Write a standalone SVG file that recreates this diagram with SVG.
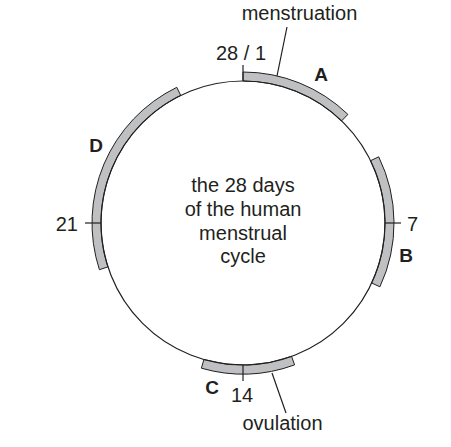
<svg xmlns="http://www.w3.org/2000/svg" width="451" height="447" viewBox="0 0 451 447">
<style>
.t{font-family:"Liberation Sans",Arial,sans-serif;font-size:20px;fill:#231f20}
.b{font-family:"Liberation Sans",Arial,sans-serif;font-size:19px;font-weight:bold;fill:#231f20}
.band{fill:#bfc0c2;stroke:#231f20;stroke-width:1}
.ln{stroke:#231f20;stroke-width:1.2;fill:none}
</style>
<rect width="451" height="447" fill="#fff"/>
<g id="bandA"><path class="band" d="M243,72 A151,151 0 0 1 347.9,114.4 L341.6,120.9 A142,142 0 0 0 243,81 Z"/><text class="b" x="321" y="81" text-anchor="middle">A</text></g>
<g id="bandB"><path class="band" d="M378.7,156.8 A151,151 0 0 1 379.9,286.8 L371.7,283 A142,142 0 0 0 370.6,160.7 Z"/><text class="b" x="406" y="262" text-anchor="middle">B</text></g>
<g id="bandC"><path class="band" d="M294.6,364.9 A151,151 0 0 1 201.4,368.2 L203.9,359.5 A142,142 0 0 0 291.6,356.4 Z"/><text class="b" x="212" y="394" text-anchor="middle">C</text></g>
<g id="bandD"><path class="band" d="M99.4,269.7 A151,151 0 0 1 176.8,87.3 L180.7,95.4 A142,142 0 0 0 107.9,266.9 Z"/><text class="b" x="96" y="152" text-anchor="middle">D</text></g>
<g id="cycle">
<circle class="ln" cx="243" cy="223" r="142" stroke-width="1.6"/>
<text class="t" text-anchor="middle"><tspan x="243" y="192">the 28 days</tspan><tspan x="243" y="216">of the human</tspan><tspan x="243" y="240">menstrual</tspan><tspan x="243" y="263">cycle</tspan></text>
</g>
<g id="ticks">
<line class="ln" x1="243" y1="81" x2="243" y2="65"/>
<line class="ln" x1="385" y1="223" x2="401" y2="223"/>
<line class="ln" x1="243" y1="365" x2="243" y2="381"/>
<line class="ln" x1="101" y1="223" x2="85" y2="223"/>
<text class="t" x="241" y="60" text-anchor="middle">28 / 1</text>
<text class="t" x="407" y="231">7</text>
<text class="t" x="242" y="402" text-anchor="middle">14</text>
<text class="t" x="78" y="231" text-anchor="end">21</text>
</g>
<g id="connectors">
<line class="ln" x1="287" y1="27" x2="277" y2="76"/>
<line class="ln" x1="272" y1="373" x2="286" y2="413"/>
</g>
<g id="labels">
<text class="t" x="299.5" y="20" text-anchor="middle">menstruation</text>
<text class="t" x="282.5" y="430" text-anchor="middle">ovulation</text>
</g>
</svg>
